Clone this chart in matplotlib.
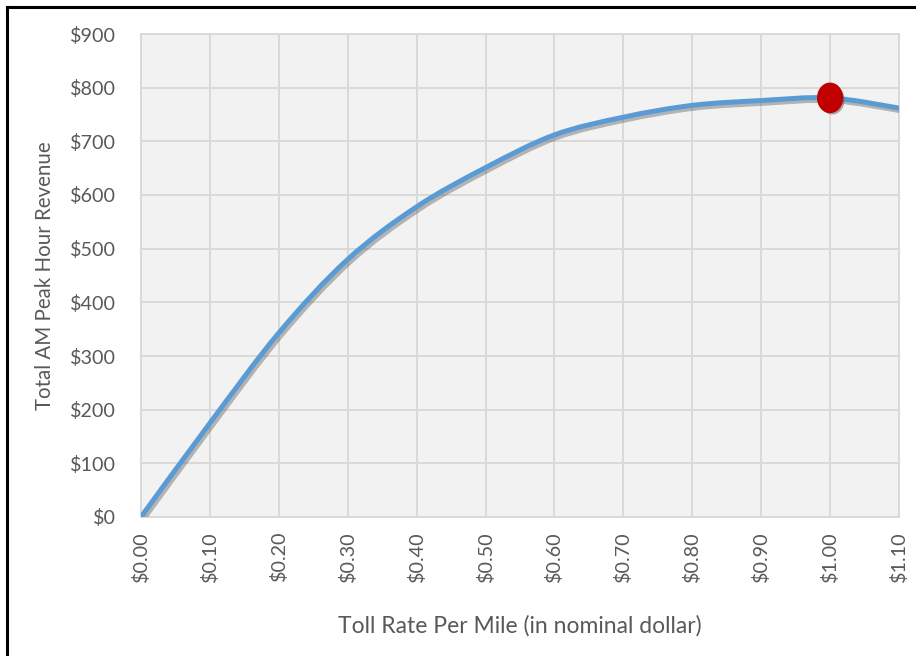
import matplotlib
matplotlib.use("Agg")
import matplotlib.pyplot as plt
import matplotlib.patheffects as pe
from matplotlib.path import Path
from matplotlib.patches import PathPatch
from matplotlib.lines import Line2D
from matplotlib.ticker import FuncFormatter, MultipleLocator
import numpy as np

# Toll rate per mile and resulting AM peak hour revenue
toll_rates = [0.00, 0.10, 0.20, 0.30, 0.40, 0.50, 0.60, 0.70, 0.80, 0.90, 1.00, 1.10]
revenue = [0, 175, 343, 480, 578, 651, 712, 745, 767, 776, 781, 762]

# Revenue-maximising toll
peak_rate = 1.00
peak_revenue = 781

x_label = "Toll Rate Per Mile (in nominal dollar)"
y_label = "Total AM Peak Hour Revenue"

plt.rcParams["font.family"] = ["Lato", "DejaVu Sans"]
text_color = "#595959"
grid_color = "#d9d9d9"
line_color = "#5b9bd5"
marker_color = "#c00000"

W, H = 916, 656
fig = plt.figure(figsize=(W / 100, H / 100), dpi=100)
ax = fig.add_axes([141 / W, 1 - 517 / H, (899 - 141) / W, (517 - 34) / H])
ax.set_facecolor("#f2f2f2")

ax.set_xlim(0, 1.10)
ax.set_ylim(0, 900)
ax.xaxis.set_major_locator(MultipleLocator(0.10))
ax.yaxis.set_major_locator(MultipleLocator(100))
ax.xaxis.set_major_formatter(FuncFormatter(lambda v, p: f"${v:.2f}"))
ax.yaxis.set_major_formatter(FuncFormatter(lambda v, p: f"${v:.0f}"))
ax.grid(True, color=grid_color, linewidth=1.4)
ax.set_axisbelow(True)
for s in ax.spines.values():
    s.set_color(grid_color)
    s.set_linewidth(1.4)
ax.tick_params(length=0, labelsize=14.2, colors=text_color)
ax.tick_params(axis="x", rotation=90, pad=10)
ax.tick_params(axis="y", pad=18)

# Smoothed curve: cubic Bezier segments through the data points
pts = np.column_stack([toll_rates, revenue]).astype(float)
n = len(pts)
verts = [pts[0]]
codes = [Path.MOVETO]
for i in range(n - 1):
    p0 = pts[i - 1] if i > 0 else pts[i]
    p1 = pts[i]
    p2 = pts[i + 1]
    p3 = pts[i + 2] if i + 2 < n else pts[i + 1]
    c1 = p1 + (p2 - p0) / 6.0
    c2 = p2 - (p3 - p1) / 6.0
    verts += [c1, c2, p2]
    codes += [Path.CURVE4] * 3
curve = PathPatch(Path(verts, codes), fill=False, edgecolor=line_color,
                  linewidth=3.6, capstyle="round", zorder=3,
                  path_effects=[pe.SimpleLineShadow(offset=(1.5, -2), shadow_color="#555555", alpha=0.4),
                                pe.Normal()])
ax.add_patch(curve)

# Peak marker, slightly taller than wide
theta = np.linspace(0, 2 * np.pi, 60)
ell = Path(np.column_stack([np.cos(theta) * 0.85, np.sin(theta)]), closed=True)
ax.plot([peak_rate], [peak_revenue], linestyle="none", marker=ell, markersize=21,
        markerfacecolor=marker_color, markeredgecolor=marker_color, zorder=5, clip_on=False,
        path_effects=[pe.SimplePatchShadow(offset=(1.5, -1.5), shadow_rgbFace="#555555", alpha=0.5),
                      pe.Normal()])

ax.set_xlabel(x_label, fontsize=16.5, color=text_color)
ax.set_ylabel(y_label, fontsize=14.8, color=text_color)
ax.xaxis.set_label_coords(0.5, (517 - 615) / (517 - 34))
ax.yaxis.set_label_coords((45 - 141) / (899 - 141) + 0.013, 0.5)

# Outer frame
fig.add_artist(Line2D([6.5 / W, 6.5 / W], [0, 1 - 6.5 / H], color="black", linewidth=2.2))
fig.add_artist(Line2D([6.5 / W, 1], [1 - 6.5 / H, 1 - 6.5 / H], color="black", linewidth=2.2))

fig.savefig("out.png", dpi=100, facecolor="white")
